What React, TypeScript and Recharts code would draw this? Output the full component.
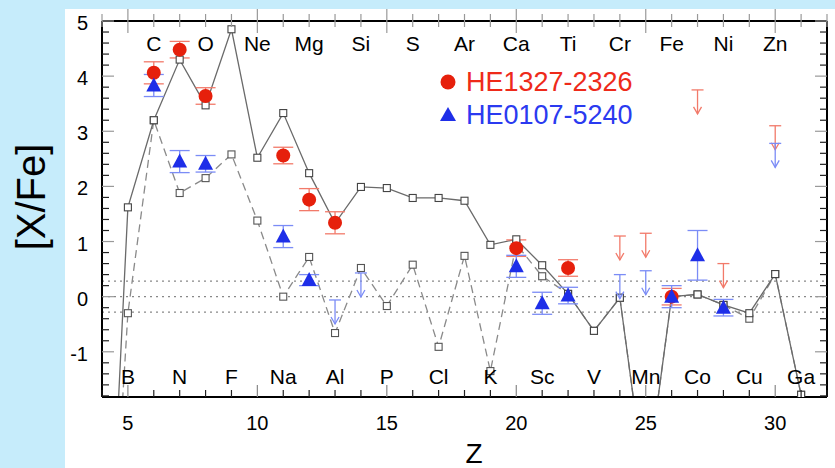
import React from 'react';
import { ComposedChart, Line, Scatter, XAxis, YAxis, ReferenceLine, ErrorBar } from 'recharts';

// ---------- data ----------
const modelZ = [4, 5, 6, 7, 8, 9, 10, 11, 12, 13, 14, 15, 16, 17, 18, 19, 20, 21, 22, 23, 24, 25, 26, 27, 28, 29, 30, 31];
const solidModel = [-8, 1.62, 3.2, 4.3, 3.47, 4.85, 2.52, 3.33, 2.24, 1.33, 1.99, 1.97, 1.79, 1.79, 1.74, 0.94, 1.04, 0.57, 0.05, -0.62, -0.02, -3.5, 0, 0.04, -0.15, -0.3, 0.41, -1.78];
const dashedModel = [-8, -0.3, 3.2, 1.88, 2.15, 2.58, 1.38, 0, 0.72, -0.66, 0.52, -0.17, 0.58, -0.91, 0.74, -1.35, 0.95, 0.37, 0.05, -0.62, -0.02, -3.5, 0, 0.04, -0.15, -0.4, 0.41, -1.78];

const redZ = [6, 7, 8, 11, 12, 13, 20, 22, 26];
const redVal = [4.06, 4.48, 3.64, 2.56, 1.76, 1.34, 0.88, 0.52, 0];
const redErr = [0.2, 0.15, 0.15, 0.15, 0.2, 0.2, 0.15, 0.15, 0.15];
const redLimZ = [24, 25, 27, 28, 30];
const redLimVal = [1.1, 1.15, 3.75, 0.6, 3.1];

const blueZ = [6, 7, 8, 11, 12, 20, 21, 22, 26, 27, 28];
const blueVal = [3.83, 2.45, 2.41, 1.09, 0.3, 0.55, -0.12, 0.02, 0, 0.75, -0.2];
const blueErr = [0.2, 0.2, 0.15, 0.2, 0.1, 0.2, 0.2, 0.15, 0.2, 0.45, 0.15];
const blueLimZ = [13, 14, 24, 25, 30];
const blueLimVal = [-0.06, 0.43, 0.4, 0.47, 2.78];

const topElemZ = [6, 8, 10, 12, 14, 16, 18, 20, 22, 24, 26, 28, 30];
const topElemNames = ['C', 'O', 'Ne', 'Mg', 'Si', 'S', 'Ar', 'Ca', 'Ti', 'Cr', 'Fe', 'Ni', 'Zn'];
const bottomElemZ = [5, 7, 9, 11, 13, 15, 17, 19, 21, 23, 25, 27, 29, 31];
const bottomElemNames = ['B', 'N', 'F', 'Na', 'Al', 'P', 'Cl', 'K', 'Sc', 'V', 'Mn', 'Co', 'Cu', 'Ga'];

const xTicks = [4, 5, 6, 7, 8, 9, 10, 11, 12, 13, 14, 15, 16, 17, 18, 19, 20, 21, 22, 23, 24, 25, 26, 27, 28, 29, 30, 31, 32];
const yTicks = [-1.8, -1.6, -1.4, -1.2, -1, -0.8, -0.6, -0.4, -0.2, 0, 0.2, 0.4, 0.6, 0.8, 1, 1.2, 1.4, 1.6, 1.8, 2, 2.2, 2.4, 2.6, 2.8, 3, 3.2, 3.4, 3.6, 3.8, 4, 4.2, 4.4, 4.6, 4.8, 5];
const refLevels = [0.28, 0, -0.28];

const seriesNames = ['HE1327-2326', 'HE0107-5240'];

// ---------- tables ----------
const modelData = modelZ.map((z, i) => ({ z, solid: solidModel[i], dashed: dashedModel[i] }));
const redData = redZ.map((z, i) => ({ z, v: redVal[i], err: redErr[i] }));
const redLimData = redLimZ.map((z, i) => ({ z, v: redLimVal[i] }));
const blueData = blueZ.map((z, i) => ({ z, v: blueVal[i], err: blueErr[i] }));
const blueLimData = blueLimZ.map((z, i) => ({ z, v: blueLimVal[i] }));

const FONT = '"Liberation Sans", Arial, Helvetica, sans-serif';
const RED = '#e6200c';
const BLUE = '#1e2ee8';
const RED_LIGHT = '#f27a6a';
const BLUE_LIGHT = '#7b8cf6';

const isMajorInt = (v: number) => Math.abs(v - Math.round(v)) < 1e-6;

const BottomTick = (props: any) => {
  const { x, y, payload } = props;
  const v = payload.value;
  const major = v % 5 === 0;
  const idx = bottomElemZ.indexOf(v);
  return (
    <g>
      <line x1={x} x2={x} y1={y} y2={y - (major ? 12 : 7)} stroke={major ? '#888' : '#222'} strokeWidth={1.2} />
      {major && (
        <text x={x} y={y + 33} textAnchor="middle" fontSize={20} fontFamily={FONT} fill="#000">{v}</text>
      )}
      {idx >= 0 && (
        <text x={x} y={y - 21} textAnchor="middle" dominantBaseline="central" fontSize={21} fontFamily={FONT} fill="#000">{bottomElemNames[idx]}</text>
      )}
    </g>
  );
};

const TopTick = (props: any) => {
  const { x, y, payload } = props;
  const v = payload.value;
  const major = v % 5 === 0;
  const idx = topElemZ.indexOf(v);
  return (
    <g>
      <line x1={x} x2={x} y1={y - (major ? 12 : 7)} y2={y + (major ? 12 : 6)} stroke="#999" strokeWidth={1.2} />
      {idx >= 0 && (
        <text x={x} y={y + 22} textAnchor="middle" dominantBaseline="central" fontSize={21} fontFamily={FONT} fill="#000">{topElemNames[idx]}</text>
      )}
    </g>
  );
};

const LeftTick = (props: any) => {
  const { x, y, payload } = props;
  const v = payload.value;
  const major = isMajorInt(v);
  return (
    <g>
      <line x1={x} x2={x + (major ? 12 : 7)} y1={y} y2={y} stroke={major ? '#999' : '#222'} strokeWidth={1.2} />
      {major && (
        <text x={x - 14} y={y + 2} textAnchor="end" dominantBaseline="central" fontSize={20} fontFamily={FONT} fill="#000">{Math.round(v)}</text>
      )}
    </g>
  );
};

const RightTick = (props: any) => {
  const { x, y, payload } = props;
  const v = payload.value;
  const major = isMajorInt(v);
  return <line x1={x} x2={x - (major ? 12 : 7)} y1={y} y2={y} stroke={major ? '#999' : '#222'} strokeWidth={1.2} />;
};

const SquareDot = (stroke: string) => (props: any) => {
  const { cx, cy, index } = props;
  if (cx == null || cy == null) return <g key={index} />;
  return <rect key={index} x={cx - 3.5} y={cy - 3.5} width={7} height={7} fill="#fff" stroke={stroke} strokeWidth={1.1} />;
};

const Circle = (props: any) => {
  const { cx, cy } = props;
  return <circle cx={cx} cy={cy} r={7} fill={RED} />;
};

const Triangle = (props: any) => {
  const { cx, cy } = props;
  return <polygon points={`${cx},${cy - 8} ${cx - 7.5},${cy + 6} ${cx + 7.5},${cy + 6}`} fill={BLUE} />;
};

const UpperLimit = (color: string) => (props: any) => {
  const { cx, cy } = props;
  const len = 24;
  return (
    <g stroke={color} strokeWidth={1.3} fill="none">
      <line x1={cx - 6} x2={cx + 6} y1={cy} y2={cy} />
      <line x1={cx} x2={cx} y1={cy} y2={cy + len} />
      <polyline points={`${cx - 4},${cy + len - 7} ${cx},${cy + len} ${cx + 4},${cy + len - 7}`} />
    </g>
  );
};

export default function App() {
  return (
    <div style={{ position: 'absolute', left: 0, top: 0, width: 835, height: 468, background: '#c6ecfb', overflow: 'hidden' }}>
      <div style={{ position: 'absolute', left: 65, top: 9, right: 0, bottom: 0, background: '#fff' }} />
      <div style={{ position: 'absolute', left: 0, top: 0 }}>
        <ComposedChart width={835} height={468} margin={{ top: 20, left: 101, right: 7, bottom: 70 }}>
          <XAxis xAxisId="b" dataKey="z" type="number" domain={[4, 32]} ticks={xTicks} interval={0} allowDataOverflow
            height={1} tickSize={0} tickMargin={0} tickLine={false} tick={<BottomTick />} axisLine={{ stroke: '#000', strokeWidth: 2 }} />
          <XAxis xAxisId="t" orientation="top" dataKey="z" type="number" domain={[4, 32]} ticks={xTicks} interval={0} allowDataOverflow
            height={1} tickSize={0} tickMargin={0} tickLine={false} tick={<TopTick />} axisLine={{ stroke: '#000', strokeWidth: 2 }} />
          <YAxis yAxisId="l" type="number" domain={[-1.82, 5]} ticks={yTicks} interval={0} allowDataOverflow
            width={1} tickSize={0} tickMargin={0} tickLine={false} tick={<LeftTick />} axisLine={{ stroke: '#000', strokeWidth: 2 }} />
          <YAxis yAxisId="r" orientation="right" type="number" domain={[-1.82, 5]} ticks={yTicks} interval={0} allowDataOverflow
            width={1} tickSize={0} tickMargin={0} tickLine={false} tick={<RightTick />} axisLine={{ stroke: '#000', strokeWidth: 2 }} />

          {refLevels.map((v) => (
            <ReferenceLine key={v} xAxisId="b" yAxisId="l" y={v} stroke="#888" strokeDasharray="2 4" strokeWidth={1.3} />
          ))}

          <Line xAxisId="b" yAxisId="l" data={modelData} dataKey="dashed" type="linear" stroke="#8a8a8a" strokeWidth={1.3}
            strokeDasharray="8 5" dot={SquareDot('#555')} isAnimationActive={false} />
          <Line xAxisId="b" yAxisId="l" data={modelData} dataKey="solid" type="linear" stroke="#6a6a6a" strokeWidth={1.3}
            dot={SquareDot('#444')} isAnimationActive={false} />

          <Scatter xAxisId="b" yAxisId="l" data={redLimData} dataKey="v" shape={UpperLimit(RED_LIGHT)} isAnimationActive={false} />
          <Scatter xAxisId="b" yAxisId="l" data={blueLimData} dataKey="v" shape={UpperLimit(BLUE_LIGHT)} isAnimationActive={false} />

          <Scatter xAxisId="b" yAxisId="l" data={redData} dataKey="v" shape={<Circle />} isAnimationActive={false}>
            <ErrorBar dataKey="err" direction="y" width={10} stroke={RED_LIGHT} strokeWidth={1.3} />
          </Scatter>
          <Scatter xAxisId="b" yAxisId="l" data={blueData} dataKey="v" shape={<Triangle />} isAnimationActive={false}>
            <ErrorBar dataKey="err" direction="y" width={10} stroke={BLUE_LIGHT} strokeWidth={1.3} />
          </Scatter>
        </ComposedChart>
      </div>
      <svg width={835} height={468} style={{ position: 'absolute', left: 0, top: 0, pointerEvents: 'none' }}>
        <text x={31} y={197} transform="rotate(-90 31 197)" textAnchor="middle" dominantBaseline="central" fontSize={40} fontFamily={FONT} fill="#000">[X/Fe]</text>
        <text x={474} y={463} textAnchor="middle" fontSize={28} fontFamily={FONT} fill="#000">Z</text>
        <circle cx={448} cy={82} r={7.5} fill={RED} />
        <text x={466} y={82} dominantBaseline="central" fontSize={27} fontFamily={FONT} fill="#ee2a1a">{seriesNames[0]}</text>
        <polygon points="448,107 440,121 456,121" fill={BLUE} />
        <text x={466} y={115} dominantBaseline="central" fontSize={27} fontFamily={FONT} fill="#2a3af0">{seriesNames[1]}</text>
      </svg>
    </div>
  );
}
